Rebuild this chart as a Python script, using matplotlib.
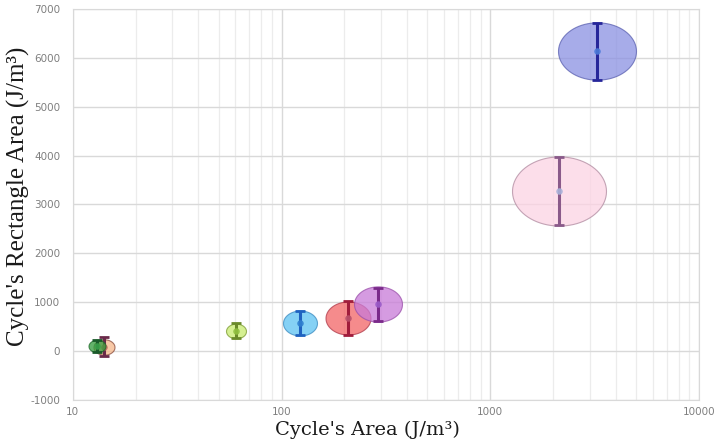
import numpy as np
import matplotlib
matplotlib.use("Agg")
import matplotlib.pyplot as plt
from matplotlib.path import Path
from matplotlib.ticker import FixedLocator, LogLocator, NullFormatter

plt.rcParams["axes.unicode_minus"] = False

# cycle area vs rectangle area, one bubble per sample
cycle_area = [14.1, 13.0, 60.8, 122, 208, 290, 2140, 3240]
rect_area = [90, 110, 420, 580, 670, 960, 3270, 6130]
rect_err = [195, 120, 150, 250, 350, 340, 700, 590]
bubble_size = [21, 17, 20, 34, 45, 48, 94, 78]

fills = ["#f6b88a", "#2f9a3a", "#c8ec6e", "#5cc2f2", "#f26466",
         "#c87ad8", "#fcd3e3", "#8a90e2"]
edges = ["#8a4a3a", "#1f6a2a", "#7a9a30", "#3a8ac0", "#b03a4a",
         "#9a50aa", "#b08aa0", "#5a60b0"]
bars = ["#6a2a4a", "#1a5a2a", "#6a8a2a", "#1f62c0", "#a01c3c",
        "#7a2a8a", "#8a5a8a", "#26269a"]
dots = ["#c07060", "#3aa04a", "#90c040", "#2f80d0", "#b8506a",
        "#9a5ac8", "#a8b0d8", "#4a7ad8"]

# bubbles are drawn as ellipses, wider than tall
t = np.linspace(0, 2 * np.pi, 80)
ellipse = Path(np.column_stack([np.cos(t), np.sin(t) / 1.36]))

fig = plt.figure(figsize=(7.14, 4.42), dpi=100)
ax = fig.add_axes([0.102, 0.095, 0.877, 0.885])

for i in range(len(cycle_area)):
    s = (bubble_size[i] * 0.72) ** 2
    ax.scatter(cycle_area[i], rect_area[i], s=s, marker=ellipse,
               color=fills[i], alpha=0.75, edgecolors=edges[i],
               linewidths=0.8, zorder=3 + i)
    ax.errorbar(cycle_area[i], rect_area[i], yerr=rect_err[i], fmt="none",
                ecolor=bars[i], elinewidth=2.2, capsize=3.5, capthick=2,
                zorder=3 + i)
    ax.scatter(cycle_area[i], rect_area[i], s=22, color=dots[i],
               alpha=0.9, zorder=3 + i, linewidths=0)

ax.set_xscale("log")
ax.set_xlim(10, 10000)
ax.set_ylim(-1000, 7000)
ax.yaxis.set_major_locator(FixedLocator(np.arange(-1000, 7001, 1000)))
ax.xaxis.set_major_locator(FixedLocator([10, 100, 1000, 10000]))
ax.xaxis.set_minor_locator(LogLocator(base=10, subs=np.arange(2, 10)))
ax.xaxis.set_minor_formatter(NullFormatter())
ax.set_xticklabels(["10", "100", "1000", "10000"])

ax.grid(True, which="major", color="#d9d9d9", linewidth=1.0, zorder=0)
ax.grid(True, which="minor", axis="x", color="#ececec", linewidth=0.9,
        zorder=0)
ax.set_axisbelow(True)
for sp in ax.spines.values():
    sp.set_color("#d9d9d9")
ax.tick_params(which="both", length=0, colors="#7f7f7f", labelsize=7.5)
ax.tick_params(axis="y", pad=9)
ax.tick_params(axis="x", pad=5)

fig.text(0.515, 0.028, "Cycle's Area (J/m³)", family="DejaVu Serif",
         fontsize=14, ha="center", va="center", color="#1a1a1a")
fig.text(0.026, 0.555, "Cycle's Rectangle Area (J/m³)",
         family="Liberation Serif", fontsize=18, rotation=90,
         ha="center", va="center", color="#1a1a1a")

fig.savefig("out.png", dpi=100)
